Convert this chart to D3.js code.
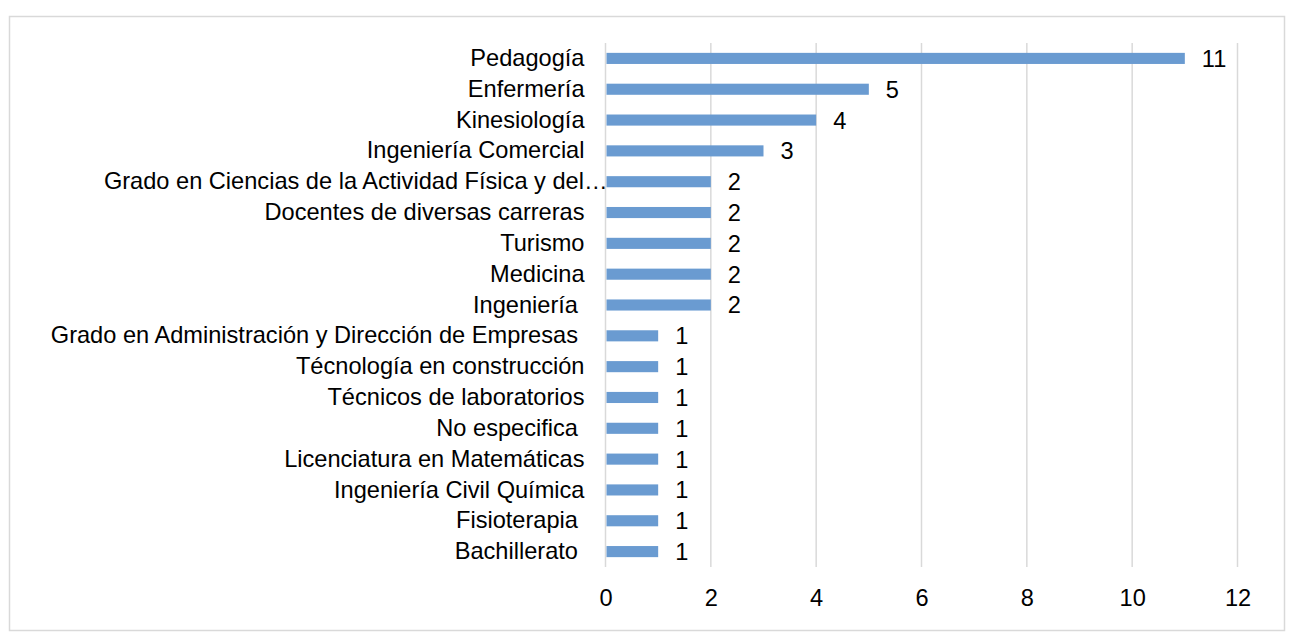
<!DOCTYPE html>
<html>
<head>
<meta charset="utf-8">
<script src="https://cdn.jsdelivr.net/npm/d3@7"></script>
<style>
  body { margin: 0; background: #fff; }
  text { font-family: "Liberation Sans", Arial, sans-serif; fill: #000; white-space: pre; }
</style>
</head>
<body>
<svg id="chart" width="1300" height="644"></svg>
<script>
var categories = [
  "Pedagogía",
  "Enfermería",
  "Kinesiología",
  "Ingeniería Comercial",
  "Grado en Ciencias de la Actividad Física y del…",
  "Docentes de diversas carreras",
  "Turismo",
  "Medicina",
  "Ingeniería ",
  "Grado en Administración y Dirección de Empresas ",
  "Técnología en construcción",
  "Técnicos de laboratorios",
  "No especifica ",
  "Licenciatura en Matemáticas",
  "Ingeniería Civil Química",
  "Fisioterapia ",
  "Bachillerato "
];
var counts = [11, 5, 4, 3, 2, 2, 2, 2, 2, 1, 1, 1, 1, 1, 1, 1, 1];
var xTicks = [0, 2, 4, 6, 8, 10, 12];

(function () {
  'use strict';

  var svg = d3.select("#chart");
  var fontFamily = "'Liberation Sans', Arial, sans-serif";
  var fontSize = "23.6px";

  // chart frame
  svg.append("rect")
    .attr("x", 9.5).attr("y", 16.5)
    .attr("width", 1275).attr("height", 614)
    .attr("fill", "#fff")
    .attr("stroke", "#d9d9d9")
    .attr("stroke-width", 1.5);

  var plotLeft = 605.5, plotRight = 1237.5, plotTop = 43, plotBottom = 567;

  var x = d3.scaleLinear().domain([0, 12]).range([plotLeft, plotRight]);
  var y = d3.scaleBand().domain(categories).range([plotTop, plotBottom])
    .paddingInner(0.64).paddingOuter(0.32);

  // gridlines
  svg.append("g")
    .selectAll("line")
    .data(xTicks)
    .join("line")
    .attr("x1", function (d) { return x(d); })
    .attr("x2", function (d) { return x(d); })
    .attr("y1", plotTop)
    .attr("y2", plotBottom)
    .attr("stroke", "#d9d9d9")
    .attr("stroke-width", 1.5);

  // x axis tick labels
  var xAxis = svg.append("g")
    .attr("transform", "translate(0," + plotBottom + ")")
    .call(d3.axisBottom(x).tickValues(xTicks).tickSize(0).tickPadding(22));
  xAxis.select(".domain").remove();
  xAxis.selectAll("text")
    .style("font-size", fontSize)
    .style("font-family", fontFamily)
    .attr("fill", "#000");

  // bars
  svg.append("g")
    .selectAll("rect")
    .data(counts)
    .join("rect")
    .attr("x", x(0) + 1)
    .attr("y", function (d, i) { return y(categories[i]); })
    .attr("width", function (d) { return x(d) - x(0) - 1; })
    .attr("height", y.bandwidth())
    .attr("fill", "#6a9bd1");

  // value labels
  svg.append("g")
    .selectAll("text")
    .data(counts)
    .join("text")
    .attr("x", function (d) { return x(d) + 17; })
    .attr("y", function (d, i) { return y(categories[i]) + y.bandwidth() / 2; })
    .attr("dy", "0.36em")
    .style("font-size", fontSize)
    .text(function (d) { return d; });

  // category labels
  var yAxis = svg.append("g")
    .attr("transform", "translate(" + plotLeft + ",0)")
    .call(d3.axisLeft(y).tickSize(0).tickPadding(21));
  yAxis.select(".domain").remove();
  yAxis.selectAll("text")
    .style("font-size", fontSize)
    .style("font-family", fontFamily)
    .attr("fill", "#000")
    // the truncated label runs right up to the axis, as in the original
    .attr("x", function (d) { return d.slice(-1) === "…" ? 2 : -21; });
})();
</script>
</body>
</html>
